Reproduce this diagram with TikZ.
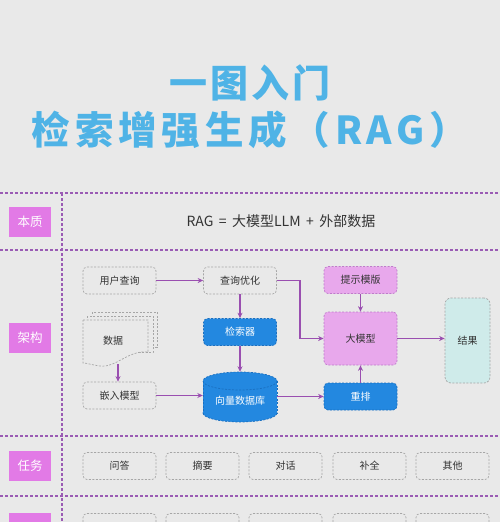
\documentclass[tikz,border=0pt]{standalone}
\usepackage{fontspec}
\setmainfont{Noto Sans CJK SC}
\newfontfamily\titlefont[LetterSpace=8]{Noto Sans CJK SC Black}
\newfontfamily\titlefontwide[LetterSpace=12.5]{Noto Sans CJK SC Black}
\usetikzlibrary{arrows.meta}
\definecolor{bg}{HTML}{E9E9E9}
\definecolor{titleblue}{HTML}{4FB3E6}
\definecolor{gridpurple}{HTML}{9A5BB4}
\definecolor{labelpink}{HTML}{E27AE6}
\definecolor{boxgray}{HTML}{A6A6A6}
\definecolor{textgray}{HTML}{333333}
\definecolor{boxblue}{HTML}{2388E0}
\definecolor{blueedge}{HTML}{1A6FC0}
\definecolor{lightpink}{HTML}{E8A8EC}
\definecolor{pinkedge}{HTML}{C07ACB}
\definecolor{lightteal}{HTML}{CFEBEA}
\definecolor{arrowpurple}{HTML}{9A4FB0}
\tikzset{
  boxbase/.style={dash pattern=on 2pt off 1.5pt, line width=0.7pt, rounded corners=4pt,
    minimum width=73pt, minimum height=27pt, inner sep=0pt, font=\fontsize{10}{12}\selectfont},
  graybox/.style={boxbase, draw=boxgray, text=textgray},
  bluebox/.style={boxbase, draw=blueedge, fill=boxblue, text=white},
  pinkbox/.style={boxbase, draw=pinkedge, fill=lightpink, text=textgray},
  tealbox/.style={boxbase, draw=boxgray, fill=lightteal, text=textgray},
  rowlabel/.style={fill=labelpink, text=white, minimum width=42pt, minimum height=30pt,
    inner sep=0pt, font=\fontsize{12.5}{14}\selectfont},
  arr/.style={draw=arrowpurple, line width=1.6pt, -{Stealth[length=5.5pt,width=5pt]}},
  gridline/.style={draw=gridpurple, line width=1.1pt, dash pattern=on 3pt off 2pt},
  docline/.style={draw=boxgray, dash pattern=on 2pt off 1.5pt, line width=0.7pt, fill=bg}
}
\begin{document}
\begin{tikzpicture}[x=1pt,y=-1pt]
\fill[bg] (0,0) rectangle (500,522);
\useasboundingbox (0,0) rectangle (500,522);
\clip (0,0) rectangle (500,522);

% title
\node[font=\titlefont\fontsize{38}{44}\selectfont, text=titleblue] (t1) at (250,83) {一图入门};
\node[font=\titlefontwide\fontsize{38.5}{44}\selectfont, text=titleblue] (t2) at (250,130) {检索增强生成（RAG）};

% grid
\draw[gridline] (0,193) -- (500,193);
\draw[gridline] (0,250) -- (500,250);
\draw[gridline] (0,436) -- (500,436);
\draw[gridline] (0,496) -- (500,496);
\draw[gridline] (62,193) -- (62,522);

% row labels
\node[rowlabel] (lb1) at (30,222) {本质};
\node[rowlabel] (lb2) at (30,338) {架构};
\node[rowlabel] (lb3) at (30,466) {任务};
\node[rowlabel] (lb4) at (30,528) {};

% row 1
\node[font=\fontsize{14}{16}\selectfont, text=textgray] (eq) at (281,221) {RAG \,=\, 大模型LLM \,+\, 外部数据};

% architecture
\node[graybox] (q) at (119.5,280.5) {用户查询};
\node[graybox] (qo) at (240,280.5) {查询优化};
\node[bluebox] (ret) at (240,332) {检索器};

% data document stack
\draw[docline] (92,312) rectangle (157,347);
\draw[docline] (87,316) rectangle (153,352);
\draw[docline] (83,320) -- (148,320) -- (148,352)
  .. controls (128,350) and (116,368) .. (100,366)
  .. controls (92,365) and (87,363) .. (83,363) -- cycle;
\node[text=textgray, font=\fontsize{10}{12}\selectfont] (data) at (113,341) {数据};
\coordinate (datab) at (118,364);

\node[graybox] (emb) at (119.5,395.5) {嵌入模型};

% vector database cylinder
\node[minimum width=74pt, minimum height=50pt, inner sep=0pt] (db) at (240,397) {};
\fill[boxblue] (240,413) ellipse (37 and 9);
\draw[blueedge, dash pattern=on 2pt off 1.5pt, line width=0.7pt] (203,413) arc (180:0:37 and 9);
\draw[blueedge, dash pattern=on 2pt off 1.5pt, line width=0.7pt] (203,413) arc (-180:0:37 and 9);
\fill[boxblue] (203,381) rectangle (277,413);
\draw[blueedge, dash pattern=on 2pt off 1.5pt, line width=0.7pt] (203,381) -- (203,413) (277,381) -- (277,413);
\draw[blueedge, fill=boxblue, dash pattern=on 2pt off 1.5pt, line width=0.7pt] (240,381) ellipse (37 and 9);
\node[text=white, font=\fontsize{10}{12}\selectfont] (dbt) at (240,401) {向量数据库};

\node[pinkbox] (tpl) at (360.5,280) {提示模版};
\node[pinkbox, minimum height=53pt] (llm) at (360.5,338.5) {大模型};
\node[bluebox] (rr) at (360.5,396.5) {重排};
\node[tealbox, minimum width=45pt, minimum height=85pt, rounded corners=6pt] (res) at (467.5,340.5) {结果};

% arrows
\draw[arr] (q.east) -- (qo.west);
\draw[arr] (qo.south) -- (ret.north);
\draw[arr] (ret.south) -- (db.north);
\draw[arr] (datab) -- (datab |- emb.north);
\draw[arr] (emb.east) -- (emb.east -| db.west);
\draw[arr] (rr.west -| db.east) -- (rr.west);
\draw[arr] (qo.east) -- ++(23,0) |- (llm.west);
\draw[arr] (tpl.south) -- (llm.north);
\draw[arr] (rr.north) -- (llm.south);
\draw[arr] (llm.east) -- (llm.east -| res.west);

% tasks
\node[graybox] (k1) at (119.5,466) {问答};
\node[graybox] (k2) at (202.5,466) {摘要};
\node[graybox] (k3) at (285.5,466) {对话};
\node[graybox] (k4) at (369.5,466) {补全};
\node[graybox] (k5) at (452.5,466) {其他};

% last row (cut off)
\node[graybox] (m1) at (119.5,527) {};
\node[graybox] (m2) at (202.5,527) {};
\node[graybox] (m3) at (285.5,527) {};
\node[graybox] (m4) at (369.5,527) {};
\node[graybox] (m5) at (452.5,527) {};
\end{tikzpicture}
\end{document}
